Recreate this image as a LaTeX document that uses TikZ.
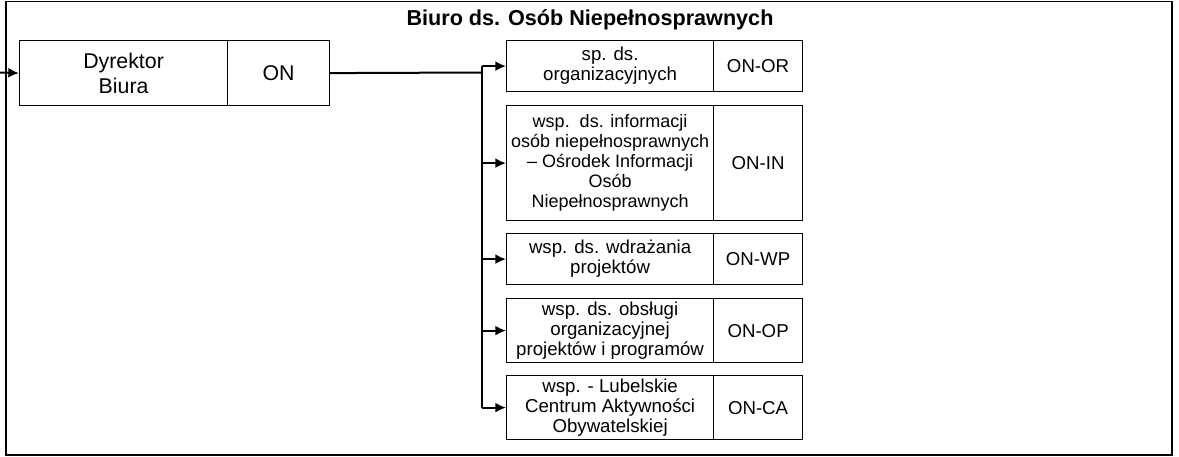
\documentclass[tikz,border=0pt]{standalone}
\usepackage{fontspec}
\setmainfont{Liberation Sans}
\usetikzlibrary{arrows.meta}

\begin{document}
\begin{tikzpicture}[x=0.75pt,y=-0.75pt]
      \tikzstyle{unitbox} = [draw, line width=0.9pt, rectangle, anchor=north west, align=center, inner xsep=0pt, inner ysep=1pt, font=\fontsize{14}{15}\selectfont]
      \tikzstyle{namebox} = [unitbox, minimum width=155.25pt]
      \tikzstyle{codebox} = [unitbox, minimum width=66.75pt]
      \tikzstyle{headbox} = [unitbox, minimum height=48.75pt, font=\fontsize{16}{19}\selectfont]
      \tikzstyle{trunk} = [line width=1.5pt]
      \tikzstyle{link} = [trunk, -{Latex[length=8pt,width=7.5pt]}]
      \useasboundingbox (0,0) rectangle (1179,457);
      \draw[line width=1.2pt] (6,1.5) rectangle (1172,455);
      \node[font=\bfseries\fontsize{16.2}{19}\selectfont] (title) at (590,20) {Biuro ds. Osób Niepełnosprawnych};
      \path
      node[headbox, minimum width=156pt] (dyr) at (19,40) {Dyrektor\\Biura}
      node[headbox, minimum width=76.5pt] (on) at (227,40) {ON}
      node[namebox, minimum height=38.25pt] (sp) at (506,40) {sp. ds.\\organizacyjnych}
      node[codebox, minimum height=38.25pt] (onor) at (713,40) {ON-OR}
      node[namebox, minimum height=86.25pt, font=\fontsize{13.5}{15}\selectfont] (inf) at (506,105) {wsp.~~ds. informacji\\osób niepełnosprawnych\\– Ośrodek Informacji\\Osób\\Niepełnosprawnych}
      node[codebox, minimum height=86.25pt] (onin) at (713,105) {ON-IN}
      node[namebox, minimum height=38.25pt] (wdr) at (506,233) {wsp. ds. wdrażania\\projektów}
      node[codebox, minimum height=38.25pt] (onwp) at (713,233) {ON-WP}
      node[namebox, minimum height=48pt] (obs) at (506,298) {wsp. ds. obsługi\\organizacyjnej\\projektów i programów}
      node[codebox, minimum height=48pt] (onop) at (713,298) {ON-OP}
      node[namebox, minimum height=48pt] (lca) at (506,375) {wsp. - Lubelskie\\Centrum Aktywności\\Obywatelskiej}
      node[codebox, minimum height=48pt] (onca) at (713,375) {ON-CA};
      \coordinate (wej) at (0,72.5);
      \coordinate (fork) at (482,72.5);
      \draw[link] (wej) -- (dyr.west);
      \draw[trunk] (on.east) -- (fork);
      \draw[trunk] (fork |- sp.west) -- (fork |- lca.west);
      \foreach \b in {sp,inf,wdr,obs,lca}
        \draw[link] (fork |- \b.west) -- (\b.west);
    \end{tikzpicture}
\end{document}
